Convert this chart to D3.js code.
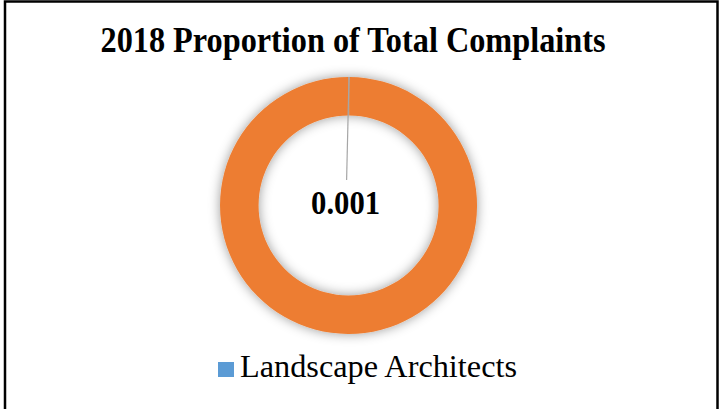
<!DOCTYPE html>
<html>
<head>
<meta charset="utf-8">
<script src="https://cdn.jsdelivr.net/npm/d3@7"></script>
<style>
  html, body { margin: 0; padding: 0; background: #fff; }
  svg { display: block; }
</style>
</head>
<body>
<svg id="chart" width="721" height="409"></svg>
<script>
// 2018 share of total complaints
const title = "2018 Proportion of Total Complaints";
const categories = ["Landscape Architects", "All other"];
const values = [0.001, 0.999];
const colors = ["#5B9BD5", "#ED7D31"];
const legendCategories = ["Landscape Architects"];
const labelText = "0.001";

const svg = d3.select("#chart");
const W = 721, H = 409;
const serif = "'Liberation Serif', 'Times New Roman', Times, serif";

// soft shadow under the ring
const defs = svg.append("defs");
const f = defs.append("filter").attr("id", "ringShadow")
  .attr("x", "-30%").attr("y", "-30%").attr("width", "160%").attr("height", "160%");
f.append("feGaussianBlur").attr("in", "SourceAlpha").attr("stdDeviation", 6).attr("result", "blur");
f.append("feFlood").attr("flood-color", "#000").attr("flood-opacity", 0.4).attr("result", "col");
f.append("feComposite").attr("in", "col").attr("in2", "blur").attr("operator", "in").attr("result", "sh");
const m = f.append("feMerge");
m.append("feMergeNode").attr("in", "sh");
m.append("feMergeNode").attr("in", "SourceGraphic");

svg.append("rect").attr("x", 0).attr("y", 0).attr("width", W).attr("height", H).attr("fill", "#fff");

// title
svg.append("text")
  .attr("x", 353).attr("y", 52)
  .attr("text-anchor", "middle")
  .attr("font-family", serif)
  .attr("font-weight", "bold")
  .attr("font-size", 36)
  .attr("textLength", 505)
  .attr("lengthAdjust", "spacingAndGlyphs")
  .attr("fill", "#000")
  .text(title);

// donut
const cx = 348.6, cy = 205.5, outerR = 128.5, innerR = 90;
const pie = d3.pie().sort(null).value(d => d.value);
const data = categories.map((c, i) => ({ name: c, value: values[i], color: colors[i] }));
const arcs = pie(data);
const arc = d3.arc().innerRadius(innerR).outerRadius(outerR);

const g = svg.append("g").attr("transform", `translate(${cx},${cy})`);
const ring = g.append("g").attr("filter", "url(#ringShadow)");
ring.selectAll("path").data(arcs).join("path")
  .attr("d", arc)
  .attr("fill", d => d.data.color);

// leader line from the small slice to its label
const small = arcs[0];
const mid = (small.startAngle + small.endAngle) / 2;
const sx = Math.sin(mid) * outerR, sy = -Math.cos(mid) * outerR;
const lx = -3, ly = 8.5;
g.append("line")
  .attr("x1", sx).attr("y1", sy)
  .attr("x2", lx + 1).attr("y2", ly - 34)
  .attr("stroke", "#A6A6A6").attr("stroke-width", 1.2);

g.append("text")
  .attr("x", lx).attr("y", ly)
  .attr("text-anchor", "middle")
  .attr("font-family", serif)
  .attr("font-weight", "bold")
  .attr("font-size", 33)
  .attr("textLength", 69)
  .attr("lengthAdjust", "spacingAndGlyphs")
  .attr("fill", "#000")
  .text(labelText);

// legend
const leg = svg.append("g");
legendCategories.forEach((name) => {
  const col = colors[categories.indexOf(name)];
  leg.append("rect").attr("x", 218).attr("y", 362).attr("width", 16).attr("height", 15).attr("fill", col);
  leg.append("text")
    .attr("x", 240).attr("y", 377)
    .attr("font-family", serif)
    .attr("font-size", 31)
    .attr("textLength", 277)
    .attr("lengthAdjust", "spacingAndGlyphs")
    .attr("fill", "#000")
    .text(name);
});

// frame
svg.append("rect")
  .attr("x", 5).attr("y", 1.5).attr("width", 712.5).attr("height", 430)
  .attr("fill", "none").attr("stroke", "#000").attr("stroke-width", 2.5);
</script>
</body>
</html>
